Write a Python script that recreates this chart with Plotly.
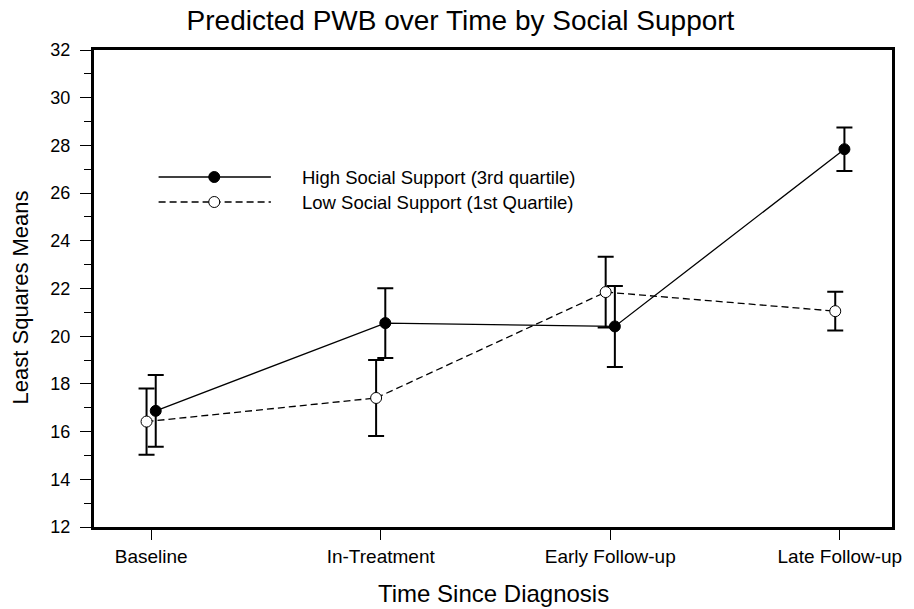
import plotly.graph_objects as go

# Least squares means of PWB by time point and social-support group
time_points = ["Baseline", "In-Treatment", "Early Follow-up", "Late Follow-up"]
high_means = [16.87, 20.55, 20.41, 27.84]
high_err = [1.50, 1.46, 1.70, 0.91]
low_means = [16.42, 17.41, 21.85, 21.05]
low_err = [1.39, 1.59, 1.48, 0.81]
high_label = "High Social Support (3rd quartile)"
low_label = "Low Social Support (1st Quartile)"

y_ticks = list(range(12, 33, 2))

W, H = 914, 609
L, R, T, B = 94, 17, 50, 82
plot_w = W - L - R
plot_h = H - T - B

FONT = "Liberation Sans, Arial, sans-serif"
pos = list(range(len(time_points)))
shift = 0.02  # small horizontal dodge so the two groups don't overlap

fig = go.Figure()

fig.add_trace(go.Scatter(
    x=[p - shift for p in pos], y=low_means,
    mode="lines+markers", name=low_label, showlegend=False,
    line=dict(color="black", width=1.3, dash="7px,4px"),
    marker=dict(symbol="circle", size=11, color="white",
                line=dict(color="black", width=1)),
    error_y=dict(type="data", array=low_err, visible=True,
                 color="black", thickness=2, width=8),
))
fig.add_trace(go.Scatter(
    x=[p + shift for p in pos], y=high_means,
    mode="lines+markers", name=high_label, showlegend=False,
    line=dict(color="black", width=1.3),
    marker=dict(symbol="circle", size=11, color="black",
                line=dict(color="black", width=1)),
    error_y=dict(type="data", array=high_err, visible=True,
                 color="black", thickness=2, width=8),
))

# Hand-built key inside the plotting area
def px_x(px):
    return (px - L) / plot_w

def px_y(py):
    return (H - B - py) / plot_h

shapes = []
annotations = []
key_rows = [
    (high_label, 177, None, "black"),
    (low_label, 202, "7px,4px", "white"),
]
for label, ypx, dash, fill in key_rows:
    yy = px_y(ypx)
    line = dict(color="black", width=1.3)
    if dash:
        line["dash"] = dash
    shapes.append(dict(type="line", xref="paper", yref="paper",
                       x0=px_x(159), x1=px_x(272), y0=yy, y1=yy, line=line))
    shapes.append(dict(type="circle", xref="paper", yref="paper",
                       xsizemode="pixel", ysizemode="pixel",
                       xanchor=px_x(215), yanchor=yy,
                       x0=-5.5, x1=5.5, y0=-5.5, y1=5.5,
                       fillcolor=fill, line=dict(color="black", width=1)))
    annotations.append(dict(xref="paper", yref="paper", x=px_x(301), y=yy,
                            text=label, showarrow=False, xanchor="left",
                            yanchor="middle",
                            font=dict(family=FONT, size=18.5, color="black")))

annotations.append(dict(xref="paper", yref="paper", x=0.5, y=px_y(593),
                        text="Time Since Diagnosis", showarrow=False,
                        xanchor="center", yanchor="middle",
                        font=dict(family=FONT, size=24, color="black")))
annotations.append(dict(xref="paper", yref="paper", x=px_x(20), y=px_y(297),
                        text="Least Squares Means", showarrow=False,
                        textangle=-90, xanchor="center", yanchor="middle",
                        font=dict(family=FONT, size=22, color="black")))

fig.update_layout(
    width=W, height=H,
    margin=dict(l=L, r=R, t=T, b=B, pad=0),
    paper_bgcolor="white", plot_bgcolor="white",
    font=dict(family=FONT, color="black"),
    title=dict(text="Predicted PWB over Time by Social Support",
               x=460.5 / W, xanchor="center", xref="container",
               y=1 - 20 / H, yanchor="middle", yref="container",
               font=dict(family=FONT, size=28, color="black")),
    shapes=shapes,
    annotations=annotations,
    showlegend=False,
)

span = 231.0
fig.update_xaxes(
    range=[-(151.5 - L) / span, 3 + (W - R - 844.5) / span],
    tickmode="array", tickvals=pos, ticktext=time_points,
    ticks="outside", ticklen=10, tickwidth=1, tickcolor="black",
    tickfont=dict(family=FONT, size=19, color="black"),
    showline=True, linewidth=3, linecolor="black", mirror=True,
    showgrid=False, zeroline=False,
)
fig.update_yaxes(
    range=[12, 32],
    tickmode="array", tickvals=y_ticks,
    ticks="outside", ticklen=11, tickwidth=1, tickcolor="black",
    ticklabelstandoff=6,
    tickfont=dict(family=FONT, size=18, color="black"),
    minor=dict(dtick=1, tick0=12, ticks="outside", ticklen=7,
               tickwidth=1, tickcolor="black"),
    showline=True, linewidth=3, linecolor="black", mirror=True,
    showgrid=False, zeroline=False,
)

fig.write_html("out.html")
